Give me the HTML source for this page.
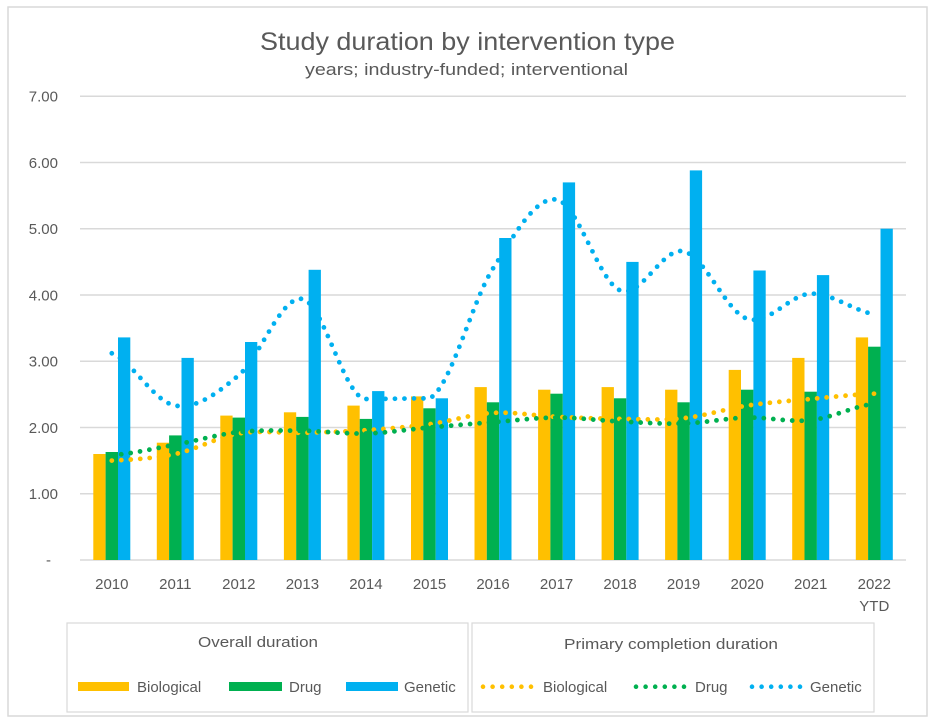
<!DOCTYPE html>
<html>
<head>
<meta charset="utf-8">
<style>
  html,body{margin:0;padding:0;background:#fff;}
  body{width:935px;height:723px;overflow:hidden;}
  svg{display:block;}
  text{font-family:"Liberation Sans",sans-serif;fill:#595959;}
</style>
</head>
<body>
<svg width="935" height="723" viewBox="0 0 935 723" xmlns="http://www.w3.org/2000/svg">
  <rect x="0" y="0" width="935" height="723" fill="#fff"/>
  <rect x="8" y="7" width="919" height="709" fill="#fff" stroke="#d9d9d9" stroke-width="1.5"/>

  <!-- Title -->
  <text x="467.5" y="50" font-size="25" text-anchor="middle" textLength="415" lengthAdjust="spacingAndGlyphs">Study duration by intervention type</text>
  <text x="466.5" y="75" font-size="17" text-anchor="middle" textLength="323" lengthAdjust="spacingAndGlyphs">years; industry-funded; interventional</text>

  <!-- Gridlines -->
  <g stroke="#d9d9d9" stroke-width="1.4">
    <line x1="80" y1="96.25" x2="906" y2="96.25"/>
    <line x1="80" y1="162.5" x2="906" y2="162.5"/>
    <line x1="80" y1="228.75" x2="906" y2="228.75"/>
    <line x1="80" y1="295" x2="906" y2="295"/>
    <line x1="80" y1="361.25" x2="906" y2="361.25"/>
    <line x1="80" y1="427.5" x2="906" y2="427.5"/>
    <line x1="80" y1="493.75" x2="906" y2="493.75"/>
    <line x1="80" y1="560" x2="906" y2="560"/>
  </g>

  <!-- Y labels -->
  <g font-size="15" text-anchor="end">
    <text x="58" y="101.5">7.00</text>
    <text x="58" y="167.8">6.00</text>
    <text x="58" y="234">5.00</text>
    <text x="58" y="300.3">4.00</text>
    <text x="58" y="366.5">3.00</text>
    <text x="58" y="432.8">2.00</text>
    <text x="58" y="499">1.00</text>
    <text x="51" y="565">-</text>
  </g>

  <!-- Bars: orange -->
  <g fill="#FFC000">
    <rect x="93.3" y="454.0" width="12.3" height="106.0"/>
    <rect x="156.8" y="442.7" width="12.3" height="117.3"/>
    <rect x="220.3" y="415.6" width="12.3" height="144.4"/>
    <rect x="283.9" y="412.3" width="12.3" height="147.7"/>
    <rect x="347.4" y="405.6" width="12.3" height="154.4"/>
    <rect x="411.0" y="396.4" width="12.3" height="163.6"/>
    <rect x="474.5" y="387.1" width="12.3" height="172.9"/>
    <rect x="538.1" y="389.7" width="12.3" height="170.3"/>
    <rect x="601.6" y="387.1" width="12.3" height="172.9"/>
    <rect x="665.1" y="389.7" width="12.3" height="170.3"/>
    <rect x="728.7" y="369.9" width="12.3" height="190.1"/>
    <rect x="792.2" y="357.9" width="12.3" height="202.1"/>
    <rect x="855.8" y="337.4" width="12.3" height="222.6"/>
  </g>
  <!-- Bars: green -->
  <g fill="#00B050">
    <rect x="105.6" y="452.0" width="12.4" height="108.0"/>
    <rect x="169.1" y="435.4" width="12.4" height="124.6"/>
    <rect x="232.6" y="417.6" width="12.4" height="142.4"/>
    <rect x="296.2" y="416.9" width="12.4" height="143.1"/>
    <rect x="359.7" y="418.9" width="12.4" height="141.1"/>
    <rect x="423.3" y="408.3" width="12.4" height="151.7"/>
    <rect x="486.8" y="402.3" width="12.4" height="157.7"/>
    <rect x="550.4" y="393.7" width="12.4" height="166.3"/>
    <rect x="613.9" y="398.3" width="12.4" height="161.7"/>
    <rect x="677.4" y="402.3" width="12.4" height="157.7"/>
    <rect x="741.0" y="389.7" width="12.4" height="170.3"/>
    <rect x="804.5" y="391.7" width="12.4" height="168.3"/>
    <rect x="868.1" y="346.7" width="12.4" height="213.3"/>
  </g>
  <!-- Bars: blue -->
  <g fill="#00B0F0">
    <rect x="118.0" y="337.4" width="12.3" height="222.6"/>
    <rect x="181.5" y="357.9" width="12.3" height="202.1"/>
    <rect x="245.0" y="342.0" width="12.3" height="218.0"/>
    <rect x="308.6" y="269.8" width="12.3" height="290.2"/>
    <rect x="372.1" y="391.1" width="12.3" height="168.9"/>
    <rect x="435.7" y="398.3" width="12.3" height="161.7"/>
    <rect x="499.2" y="238.0" width="12.3" height="322.0"/>
    <rect x="562.8" y="182.4" width="12.3" height="377.6"/>
    <rect x="626.3" y="261.9" width="12.3" height="298.1"/>
    <rect x="689.8" y="170.4" width="12.3" height="389.6"/>
    <rect x="753.4" y="270.5" width="12.3" height="289.5"/>
    <rect x="816.9" y="275.1" width="12.3" height="284.9"/>
    <rect x="880.5" y="228.7" width="12.3" height="331.3"/>
  </g>

  <!-- Dotted smoothed lines -->
  <g fill="none" stroke-width="4.8" stroke-linecap="round" stroke-dasharray="0 9.5">
    <path stroke="#FFC000" d="M 111.8 460.6
      C 133.0 459.5, 154.1 458.52, 175.3 454.0
      C 196.5 449.48, 217.6 437.03, 238.8 433.5
      C 260.0 429.97, 281.2 433.35, 302.4 432.8
      C 323.6 432.25, 344.7 431.63, 365.9 430.2
      C 387.1 428.77, 408.3 427.08, 429.5 424.2
      C 450.7 421.32, 471.8 414.12, 493.0 412.9
      C 514.2 411.68, 535.4 415.9, 556.6 416.9
      C 577.8 417.9, 598.9 418.68, 620.1 418.9
      C 641.3 419.12, 662.4 420.42, 683.6 418.2
      C 704.8 415.98, 726.0 408.8, 747.2 405.6
      C 768.4 402.4, 789.5 400.98, 810.7 399.0
      C 831.9 397.02, 853.1 394.58, 874.3 393.7"/>
    <path stroke="#00B050" d="M 111.8 455.3
      C 133.0 453.53, 154.1 448.57, 175.3 444.7
      C 196.5 440.83, 217.6 434.42, 238.8 432.1
      C 260.0 429.78, 281.2 430.57, 302.4 430.8
      C 323.6 431.03, 344.7 434.05, 365.9 433.5
      C 387.1 432.95, 408.3 429.38, 429.5 427.5
      C 450.7 425.62, 471.8 423.85, 493.0 422.2
      C 514.2 420.55, 535.4 417.72, 556.6 417.6
      C 577.8 417.48, 598.9 420.52, 620.1 421.5
      C 641.3 422.48, 662.4 424.15, 683.6 423.5
      C 704.8 422.85, 726.0 418.15, 747.2 417.6
      C 768.4 417.05, 789.5 422.52, 810.7 420.2
      C 831.9 417.88, 853.1 406.45, 874.3 403.7"/>
    <path stroke="#00B0F0" d="M 111.8 353.3
      C 133.0 362.0, 154.1 401.95, 175.3 405.6
      C 196.5 409.25, 217.6 392.97, 238.8 375.2
      C 260.0 357.43, 281.2 295.03, 302.4 299.0
      C 323.6 302.97, 344.7 399.0, 365.9 399.0
      C 387.1 399.0, 408.3 398.4, 429.5 398.4
      C 450.7 388.0, 471.8 301.63, 493.0 268.5
      C 514.2 235.37, 535.4 195.95, 556.6 199.6
      C 577.8 203.25, 598.9 281.78, 620.1 290.4
      C 641.3 299.02, 662.4 246.57, 683.6 251.3
      C 704.8 256.03, 726.0 311.73, 747.2 318.8
      C 768.4 325.87, 789.5 294.47, 810.7 293.7
      C 831.9 292.93, 853.1 310.78, 874.3 314.2"/>
  </g>

  <!-- X labels -->
  <g font-size="15" text-anchor="middle">
    <text x="111.8" y="589">2010</text>
    <text x="175.3" y="589">2011</text>
    <text x="238.8" y="589">2012</text>
    <text x="302.4" y="589">2013</text>
    <text x="365.9" y="589">2014</text>
    <text x="429.5" y="589">2015</text>
    <text x="493.0" y="589">2016</text>
    <text x="556.6" y="589">2017</text>
    <text x="620.1" y="589">2018</text>
    <text x="683.6" y="589">2019</text>
    <text x="747.2" y="589">2020</text>
    <text x="810.7" y="589">2021</text>
    <text x="874.3" y="589">2022</text>
    <text x="874.3" y="611">YTD</text>
  </g>

  <!-- Legend boxes -->
  <rect x="67" y="623" width="401" height="89" fill="#fff" stroke="#d9d9d9" stroke-width="1.2"/>
  <rect x="472" y="623" width="402" height="89" fill="#fff" stroke="#d9d9d9" stroke-width="1.2"/>

  <text x="258" y="647" font-size="15" text-anchor="middle" textLength="120" lengthAdjust="spacingAndGlyphs">Overall duration</text>
  <text x="671" y="649" font-size="15" text-anchor="middle" textLength="214" lengthAdjust="spacingAndGlyphs">Primary completion duration</text>

  <rect x="78" y="682" width="51" height="9" fill="#FFC000"/>
  <rect x="229" y="682" width="53" height="9" fill="#00B050"/>
  <rect x="346" y="682" width="52" height="9" fill="#00B0F0"/>
  <g font-size="15">
    <text x="137" y="692">Biological</text>
    <text x="289" y="692">Drug</text>
    <text x="404" y="692">Genetic</text>
    <text x="543" y="692">Biological</text>
    <text x="695" y="692">Drug</text>
    <text x="810" y="692">Genetic</text>
  </g>
  <g fill="none" stroke-width="4.6" stroke-linecap="round" stroke-dasharray="0 9.6">
    <line x1="483" y1="686.7" x2="531.1" y2="686.7" stroke="#FFC000"/>
    <line x1="636" y1="686.7" x2="684.1" y2="686.7" stroke="#00B050"/>
    <line x1="752" y1="686.7" x2="800.1" y2="686.7" stroke="#00B0F0"/>
  </g>
</svg>
</body>
</html>
